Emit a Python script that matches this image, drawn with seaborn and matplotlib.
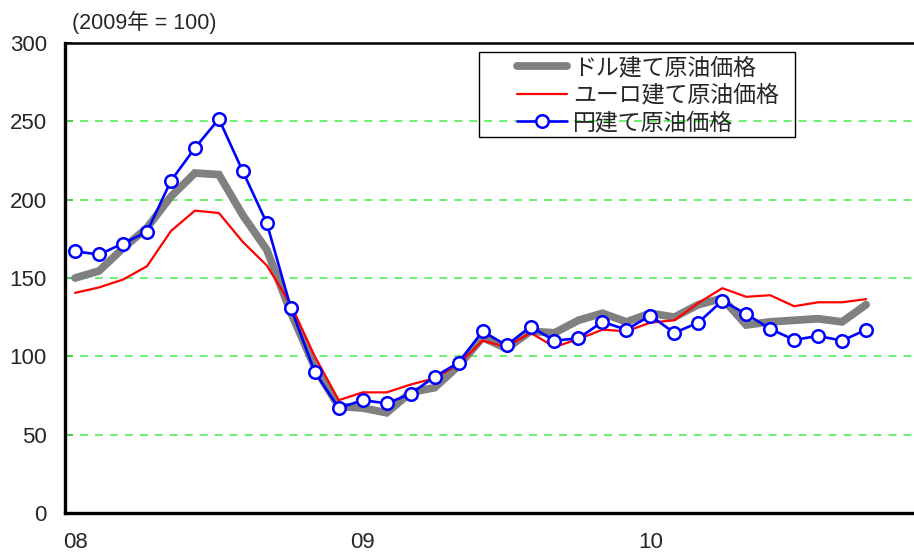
import matplotlib
matplotlib.use("Agg")
import matplotlib.pyplot as plt
from matplotlib.lines import Line2D
from matplotlib.patches import Rectangle
import numpy as np
import pandas as pd
import seaborn as sns

# Monthly index values (2009 average = 100), Jan 2008 - Oct 2010
dollar = [150, 154.5, 169, 182, 202, 217, 216, 190, 168, 128, 93, 68,
          67, 64, 77, 80, 94, 112, 105, 116, 115, 123, 127.5, 122,
          127.5, 125, 133, 137, 120, 122, 123, 124, 122, 133]
euro = [140.5, 144, 149, 157.5, 180, 193, 191.5, 173, 158, 133, 100, 72,
        77, 77, 82, 86, 95, 110, 106, 115, 106, 111, 117, 116,
        121.5, 123, 134, 143.5, 138, 139, 132, 134.5, 134.5, 136.5]
yen = [167, 165, 172, 179.5, 212, 233, 251.5, 218, 185, 131, 90, 67,
       72, 70, 76, 87, 96, 116, 107, 119, 110, 111.5, 122, 117,
       126, 115, 121.5, 135.5, 127, 117.5, 110.5, 113, 110, 117]
series_names = ["ドル建て原油価格", "ユーロ建て原油価格", "円建て原油価格"]
year_ticks = [0, 12, 24]
year_labels = ["08", "09", "10"]
y_ticks = [0, 50, 100, 150, 200, 250, 300]

df = pd.DataFrame({"month": np.arange(len(dollar)),
                   "dollar": dollar, "euro": euro, "yen": yen})

sns.set_theme(style="white")
plt.rcParams["font.family"] = ["Liberation Sans", "Noto Sans CJK JP", "DejaVu Sans"]

W, H = 914, 554
fig = plt.figure(figsize=(W / 100, H / 100), dpi=100)
ax = fig.add_axes([65 / W, 1 - 513 / H, 1.01 - 65 / W, (513 - 43) / H])

sns.lineplot(data=df, x="month", y="dollar", ax=ax, color="#808080",
             linewidth=5.6, solid_joinstyle="miter", zorder=3)
sns.lineplot(data=df, x="month", y="euro", ax=ax, color="#ff0000",
             linewidth=1.6, zorder=4)
sns.lineplot(data=df, x="month", y="yen", ax=ax, color="#0000ff",
             linewidth=1.9, marker="o", markersize=9, markerfacecolor="white",
             markeredgecolor="#0000ff", markeredgewidth=1.8, zorder=5)

ax.set_xlim(-0.42, 35.38)
ax.set_ylim(0, 300)
ax.set_yticks(y_ticks)
ax.set_xticks(year_ticks)
ax.set_xticklabels(year_labels)
ax.set_xlabel("")
ax.set_ylabel("")

for v in y_ticks[1:-1]:
    ax.axhline(v, color="#44ee44", linewidth=1.1, linestyle=(0, (5.2, 4.6)), zorder=1)

ax.tick_params(axis="y", direction="in", length=6, width=1.2, color="#2a6a2a",
               labelsize=16, pad=13, left=True)
ax.tick_params(axis="x", length=0, labelsize=16, pad=14)

for side in ["left", "bottom", "top"]:
    ax.spines[side].set_visible(True)
    ax.spines[side].set_color("black")
ax.spines["left"].set_linewidth(2.4)
ax.spines["bottom"].set_linewidth(2.4)
ax.spines["top"].set_linewidth(1.8)
ax.spines["right"].set_visible(False)

fig.text(72 / W, 1 - 22 / H, "(2009年 = 100)", fontsize=15.5,
         ha="left", va="center")

# Legend box and entries
fig.patches.append(Rectangle((479 / W, 1 - 137 / H), (795 - 479) / W, (137 - 52) / H,
                             transform=fig.transFigure, fill=False,
                             edgecolor="black", linewidth=1.0, zorder=10))
handles = [
    Line2D([], [], color="#808080", linewidth=5.6),
    Line2D([], [], color="#ff0000", linewidth=1.6),
    Line2D([], [], color="#0000ff", linewidth=1.9, marker="o", markersize=9,
           markerfacecolor="white", markeredgecolor="#0000ff", markeredgewidth=1.8),
]
leg = fig.legend(handles, series_names, loc="upper left",
                 bbox_to_anchor=(501 / W, 1 - 40 / H), frameon=False,
                 prop={"family": ["Noto Sans CJK JP"], "size": 16.5},
                 handlelength=2.2, handletextpad=0.25, labelspacing=0.2,
                 borderpad=0.2)

fig.savefig("out.png", dpi=100)
